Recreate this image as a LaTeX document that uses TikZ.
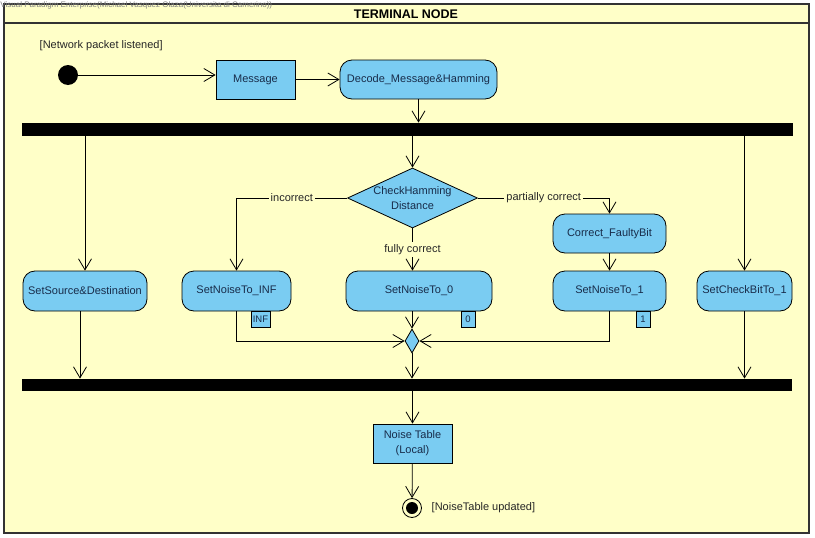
\documentclass[tikz,border=0pt]{standalone}
\usepackage{fontspec}
\setmainfont{Liberation Sans}
\usetikzlibrary{shapes.geometric,arrows.meta}
\definecolor{frameyellow}{RGB}{255,255,200}
\definecolor{actblue}{RGB}{122,204,242}
\definecolor{txtblue}{RGB}{24,44,74}

\begin{document}
\begin{tikzpicture}[x=1pt, y=-1pt, line width=0.8pt, font=\fontsize{11}{15}\selectfont,
  act/.style={draw, fill=actblue, rounded corners=12pt, minimum height=40pt, text=txtblue, align=center},
  obj/.style={draw, fill=actblue, minimum height=39pt, text=txtblue, align=center},
  pinbox/.style={draw, fill=actblue, inner sep=1pt, minimum height=16pt, text=txtblue, font=\fontsize{9.5}{10}\selectfont},
  bar/.style={fill=black, draw=none, inner sep=0pt},
  flow/.style={-{Straight Barb[length=11pt,width=13pt]}},
  guard/.style={fill=frameyellow, inner sep=2pt, text=black!85}]
\useasboundingbox (0,0) rectangle (815,538);
% frame
\draw[draw=black!80, line width=1.3pt, fill=frameyellow] (4,4) rectangle (809,533);
\draw[draw=black!80, line width=1.1pt] (4,23) -- (809,23);
\node[font=\fontsize{12.5}{14}\bfseries] (title) at (406,14) {TERMINAL NODE};
\node[anchor=west, inner sep=0pt, text=gray, font=\fontsize{8}{9}\selectfont] (vp) at (0,5) {Visual Paradigm Enterprise(Michael Vasquez Olaza(Universita di Camerino))};
% nodes
\node[circle, fill=black, minimum size=20pt, inner sep=0pt] (start) at (68,75) {};
\node[anchor=west, text=black!85] (listen) at (36,46) {[Network packet listened]};
\node[obj, minimum width=79pt] (msg) at (255.5,79.5) {Message};
\node[act, minimum width=157pt, minimum height=39pt] (decode) at (418.5,79.5) {Decode\_Message\&Hamming};
\node[bar, minimum width=771pt, minimum height=13pt] (fork) at (407.5,129.5) {};
\node[diamond, draw, fill=actblue, inner sep=0pt, minimum width=130pt, minimum height=60pt,
  label={[align=center, text=txtblue]center:CheckHamming\\Distance}] (chk) at (412.5,198) {};
\node[act, minimum width=124pt] (src) at (85,291) {SetSource\&Destination};
\node[act, minimum width=109pt] (ninf) at (236.5,291) {SetNoiseTo\_INF};
\node[act, minimum width=146pt] (nzero) at (419,291) {SetNoiseTo\_0};
\node[act, minimum width=113pt, minimum height=39pt] (fix) at (609.5,233.5) {Correct\_FaultyBit};
\node[act, minimum width=113pt] (none) at (609.5,291) {SetNoiseTo\_1};
\node[act, minimum width=95pt] (chk1) at (744.5,291) {SetCheckBitTo\_1};
\node[pinbox, minimum width=19pt] (pinf) at (260.5,319) {INF};
\node[pinbox, minimum width=14pt] (pzero) at (468,319) {0};
\node[pinbox, minimum width=14pt] (pone) at (643,319) {1};
\node[diamond, draw, fill=actblue, inner sep=0pt, minimum width=14pt, minimum height=24pt] (merge) at (412,341) {};
\node[bar, minimum width=770pt, minimum height=12pt] (join) at (407,385) {};
\node[obj, minimum width=79pt] (table) at (412.5,443.5) {Noise Table\\(Local)};
\node[circle, draw, minimum size=19pt, inner sep=0pt,
  path picture={\fill (path picture bounding box.center) circle (6pt);}] (stop) at (412,508) {};
\node[anchor=west, text=black!85] (updated) at (428,508) {[NoiseTable updated]};
% flows
\draw[flow] (start) -- (start -| msg.west);
\draw[flow] (msg) -- (decode);
\draw[flow] (decode) -- (decode |- fork.north);
\draw[flow] (src.north |- fork.south) -- (src.north);
\draw[flow] (chk.north |- fork.south) -- (chk.north);
\draw[flow] (chk1.north |- fork.south) -- (chk1.north);
\draw[flow] (chk.west) -| node[guard, pos=0.25] {incorrect} (ninf.north);
\draw[flow] (chk.east) -| node[guard, pos=0.25] {partially correct} (fix.north);
\draw[flow] (chk.south) -- node[guard] {fully correct} (chk.south |- nzero.north);
\draw[flow] (fix) -- (none);
\draw[flow] (ninf.south) |- (merge.west);
\draw[flow] (none.south) |- (merge.east);
\draw[flow] (merge |- nzero.south) -- (merge.north);
\draw[flow] (merge.south) -- (merge |- join.north);
\draw[flow] ([xshift=-5pt]src.south) -- ([xshift=-5pt]src.south |- join.north);
\draw[flow] (chk1.south) -- (chk1.south |- join.north);
\draw[flow] (table |- join.south) -- (table);
\draw[flow] (table) -- (stop);
\end{tikzpicture}
\end{document}
